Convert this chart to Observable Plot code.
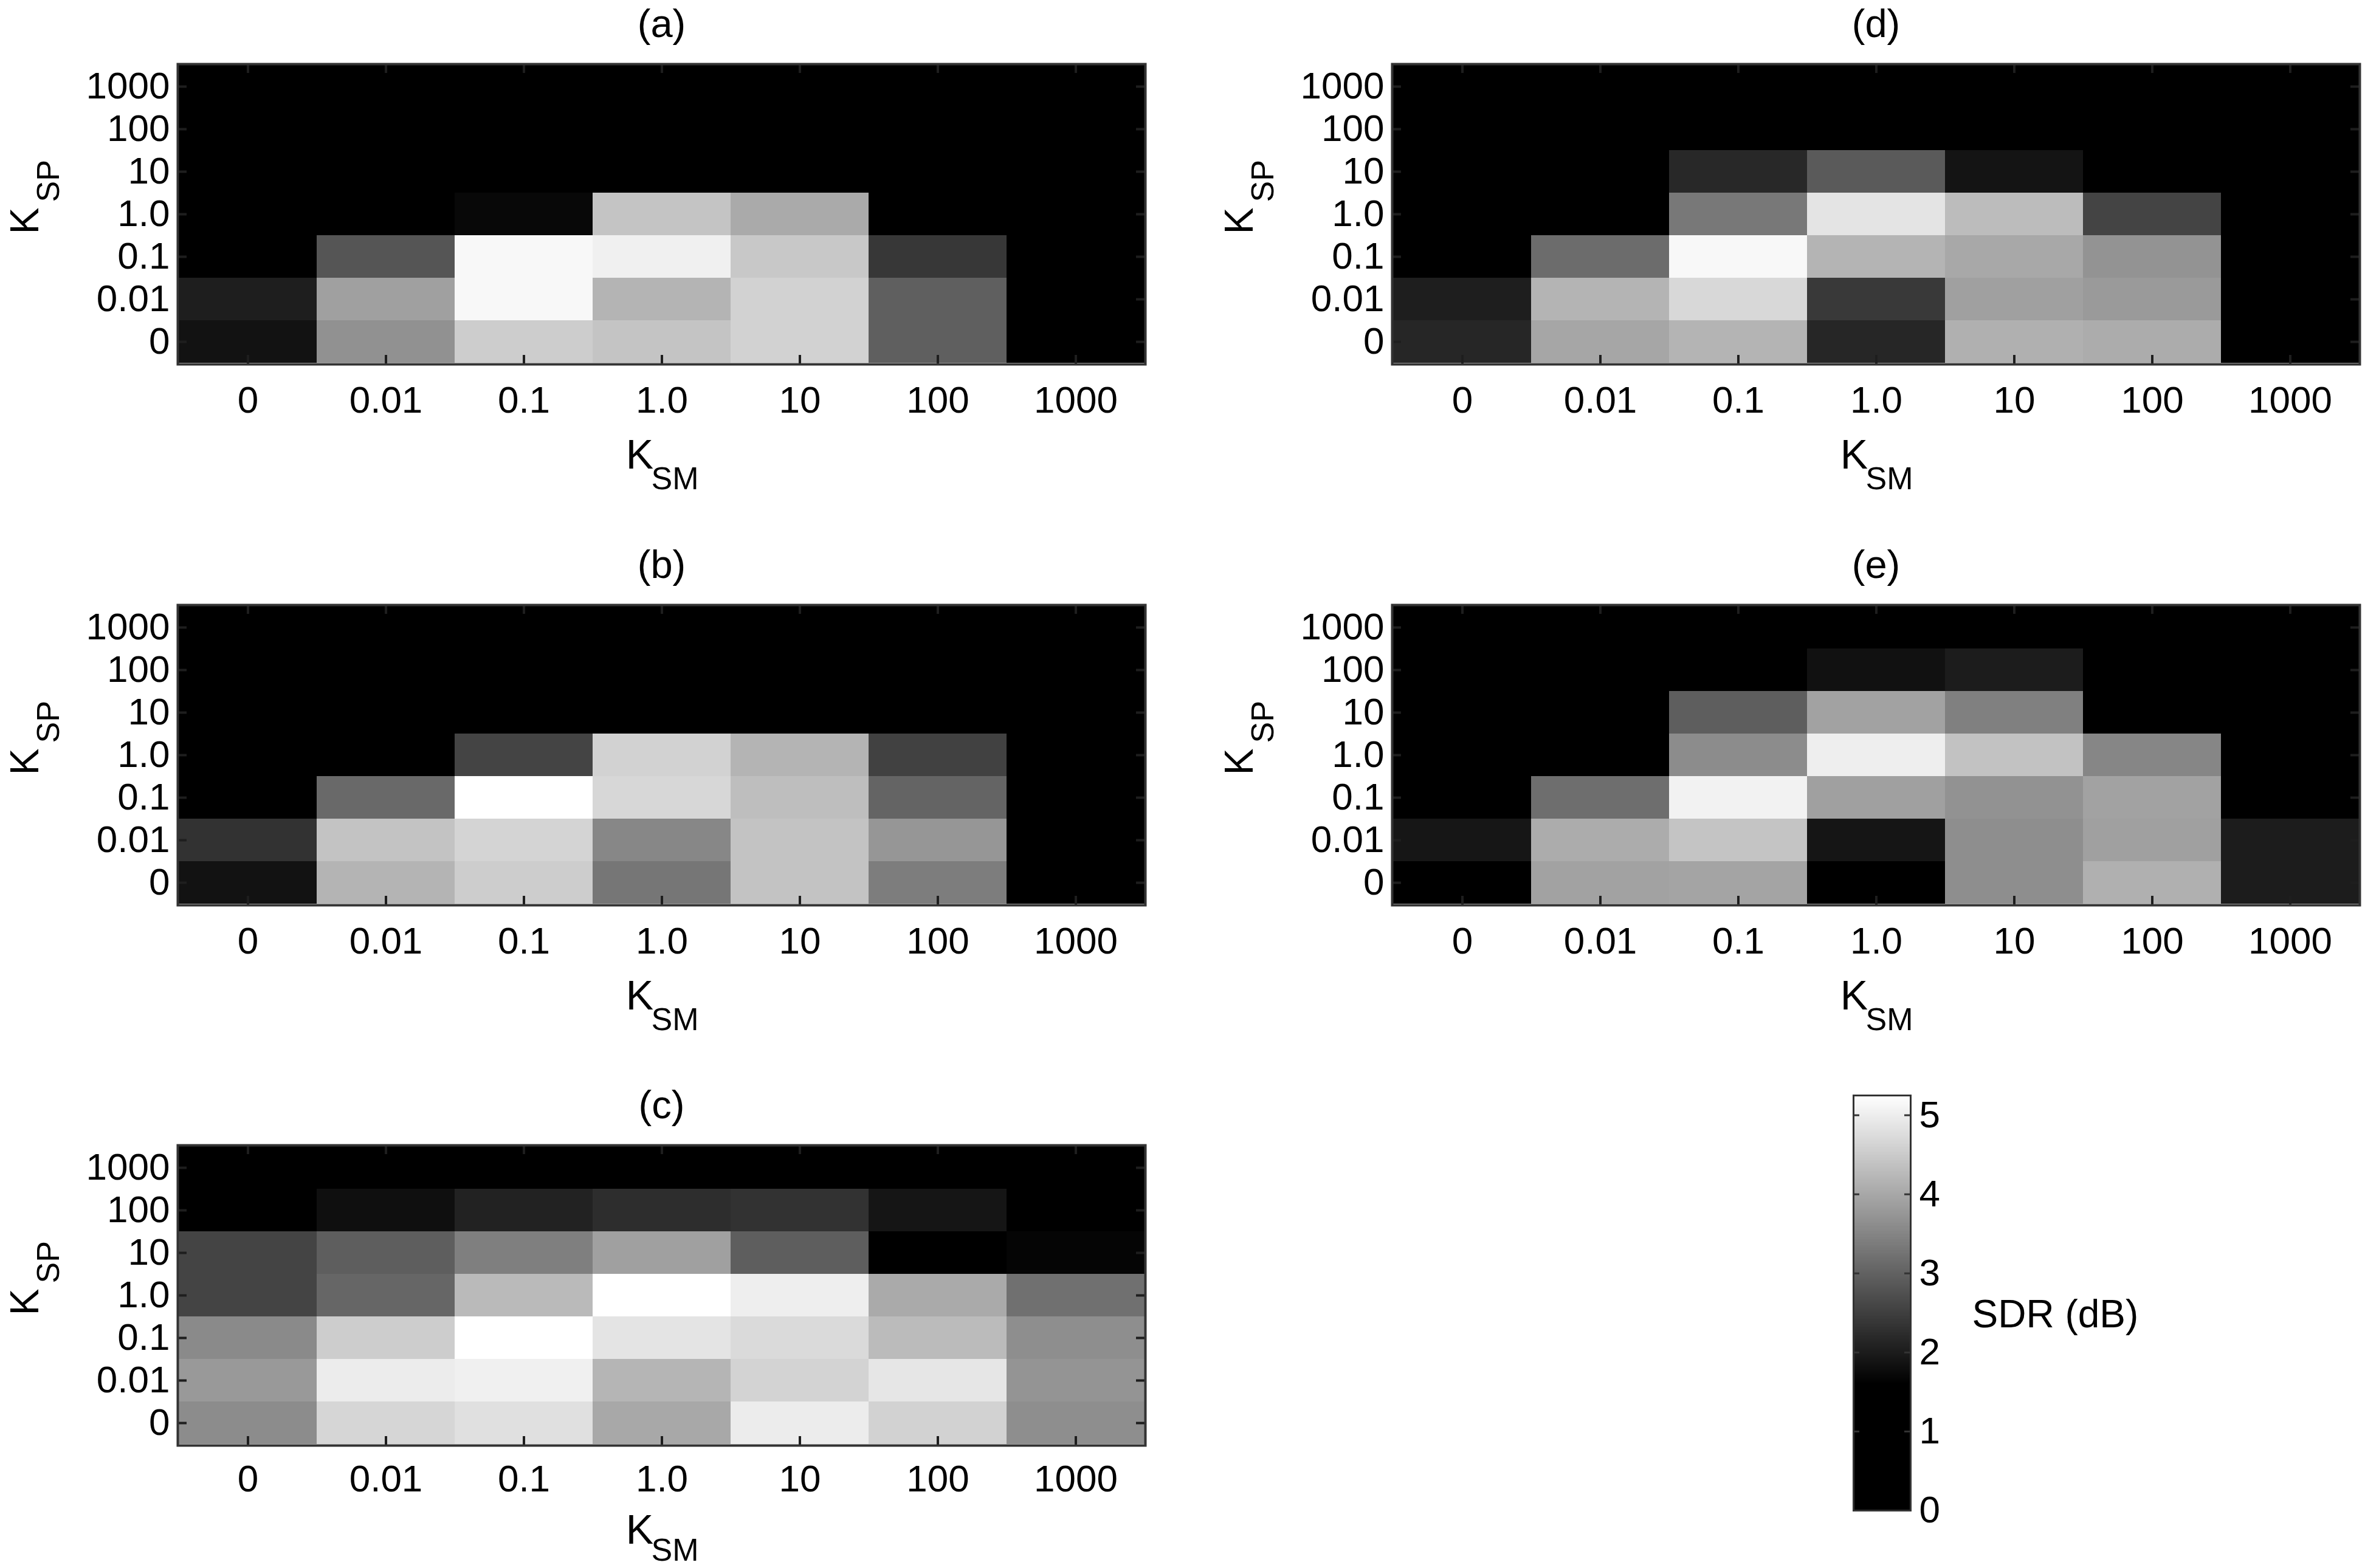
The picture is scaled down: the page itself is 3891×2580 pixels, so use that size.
<!DOCTYPE html>
<html>
<head>
<meta charset="utf-8">
<script src="https://cdn.jsdelivr.net/npm/d3@7"></script>
<script src="https://cdn.jsdelivr.net/npm/@observablehq/plot@0.6"></script>
<style>
html, body { margin: 0; padding: 0; background: #fff; }
#page { position: relative; width: 3891px; height: 2580px; overflow: hidden; background: #fff; }
#page > svg { position: absolute; }
</style>
</head>
<body>
<div id="page"></div>
<script>
// ---- data ----
const kSM = ["0", "0.01", "0.1", "1.0", "10", "100", "1000"];           // x categories
const kSP = ["1000", "100", "10", "1.0", "0.1", "0.01", "0"];           // y categories, top to bottom
const colorTicks = [0, 1, 2, 3, 4, 5];
const sdrMax = 5.25;
const blackBelow = 1.6;

// SDR (dB), rows follow kSP (top to bottom), columns follow kSM
const sdrA = [
  [1, 1, 1, 1, 1, 1, 1],
  [1, 1, 1, 1, 1, 1, 1],
  [1, 1, 1, 1, 1, 1, 1],
  [1, 1, 1.71, 4.41, 4.03, 1, 1],
  [1, 2.82, 5.15, 5.04, 4.46, 2.39, 1],
  [2.03, 3.89, 5.15, 4.18, 4.60, 2.96, 1],
  [1.86, 3.68, 4.53, 4.41, 4.60, 2.96, 1]
];
const sdrB = [
  [1, 1, 1, 1, 1, 1, 1],
  [1, 1, 1, 1, 1, 1, 1],
  [1, 1, 1, 1, 1, 1, 1],
  [1, 1, 2.57, 4.61, 4.18, 2.53, 1],
  [1, 3.10, 5.25, 4.68, 4.32, 3.03, 1],
  [2.32, 4.39, 4.63, 3.53, 4.39, 3.75, 1],
  [1.86, 4.18, 4.53, 3.29, 4.39, 3.39, 1]
];
const sdrC = [
  [1, 1, 1, 1, 1, 1, 1],
  [1, 1.81, 2.09, 2.24, 2.32, 1.90, 1],
  [2.57, 2.95, 3.42, 3.89, 2.95, 1, 1.67],
  [2.57, 3.06, 4.26, 5.25, 5.01, 4.03, 3.20],
  [3.58, 4.53, 5.25, 4.86, 4.72, 4.28, 3.63],
  [3.79, 4.98, 5.04, 4.19, 4.62, 4.89, 3.72],
  [3.60, 4.66, 4.81, 4.00, 4.98, 4.61, 3.63]
];
const sdrD = [
  [1, 1, 1, 1, 1, 1, 1],
  [1, 1, 1, 1, 1, 1, 1],
  [1, 1, 2.17, 2.89, 1.89, 1, 1],
  [1, 1, 3.32, 4.86, 4.29, 2.57, 1],
  [1, 3.15, 5.15, 4.18, 4.00, 3.70, 1],
  [2.03, 4.18, 4.69, 2.42, 3.89, 3.80, 1],
  [2.14, 3.98, 4.18, 2.14, 4.12, 4.06, 1]
];
const sdrE = [
  [1, 1, 1, 1, 1, 1, 1],
  [1, 1, 1, 1.84, 2.00, 1, 1],
  [1, 1, 2.95, 3.92, 3.43, 1, 1],
  [1, 1, 3.60, 5.01, 4.38, 3.52, 1],
  [1, 3.17, 5.06, 3.89, 3.69, 3.92, 1],
  [1.91, 4.06, 4.41, 1.90, 3.63, 3.89, 2.00],
  [1, 3.92, 3.95, 1, 3.63, 4.12, 2.00]
];
const panelNames = ["(a)", "(b)", "(c)", "(d)", "(e)"];
const panelValues = [sdrA, sdrB, sdrC, sdrD, sdrE];

// ---- layout ----
const FONT = '"Liberation Sans", Arial, Helvetica, sans-serif';
const colorScale = {
  type: "linear",
  domain: [0, blackBelow, sdrMax],
  range: ["#000000", "#000000", "#ffffff"],
  interpolate: "rgb"
};
const layout = [
  {left: 0,    top: 0,    col: 0, height: 880, pad: 35, kdy: 171, sdy: 205},
  {left: 0,    top: 890,  col: 0, height: 880, pad: 35, kdy: 171, sdy: 205},
  {left: 0,    top: 1779, col: 0, height: 801, pad: 31, kdy: 161, sdy: 189},
  {left: 1950, top: 0,    col: 1, height: 880, pad: 35, kdy: 171, sdy: 205},
  {left: 1950, top: 890,  col: 1, height: 880, pad: 35, kdy: 171, sdy: 205}
];
const FW = 1592, FH = 494, MT = 105, TICK = 15;
const page = document.getElementById("page");

panelNames.forEach((name, k) => {
  const L = layout[k];
  const values = panelValues[k];
  const W = L.col === 0 ? 1950 : 1941;
  const ml = L.col === 0 ? 292 : 340;
  const mr = W - ml - FW;
  const mb = L.height - MT - FH;
  const cells = kSP.flatMap((sp, i) => kSM.map((sm, j) => ({sm, sp, v: values[i][j]})));
  const svg = Plot.plot({
    width: W, height: L.height,
    marginLeft: ml, marginRight: mr, marginTop: MT, marginBottom: mb,
    style: {fontFamily: FONT, fontSize: "62px", color: "#000", background: "transparent", overflow: "visible"},
    x: {type: "band", domain: kSM, padding: 0},
    y: {type: "band", domain: kSP, padding: 0},
    color: colorScale,
    marks: [
      Plot.cell(cells, {x: "sm", y: "sp", fill: "v", inset: 0, shapeRendering: "crispEdges"}),
      Plot.tickX(kSM, {x: d => d, insetTop: FH - TICK, stroke: "#1e1e1e", strokeWidth: 4}),
      Plot.tickX(kSM, {x: d => d, insetBottom: FH - TICK, stroke: "#1e1e1e", strokeWidth: 4}),
      Plot.tickY(kSP, {y: d => d, insetRight: FW - TICK, stroke: "#1e1e1e", strokeWidth: 4}),
      Plot.tickY(kSP, {y: d => d, insetLeft: FW - TICK, stroke: "#1e1e1e", strokeWidth: 4}),
      Plot.frame({stroke: "#333", strokeWidth: 4}),
      Plot.axisX({anchor: "bottom", tickSize: 0, tickPadding: L.pad, label: null, fontSize: 62}),
      Plot.axisY({anchor: "left", tickSize: 0, tickPadding: 13, label: null, fontSize: 62}),
      Plot.text([name], {text: d => d, frameAnchor: "top", dy: -45, lineAnchor: "bottom", fontSize: 65}),
      Plot.text(["K"], {text: d => d, frameAnchor: "bottom", dx: -36, dy: L.kdy, lineAnchor: "bottom", fontSize: 68}),
      Plot.text(["SM"], {text: d => d, frameAnchor: "bottom", dx: 22, dy: L.sdy, lineAnchor: "bottom", fontSize: 52}),
      Plot.text(["K"], {text: d => d, frameAnchor: "left", rotate: -90, dx: -230, dy: 33, lineAnchor: "bottom", fontSize: 66}),
      Plot.text(["SP"], {text: d => d, frameAnchor: "left", rotate: -90, dx: -196, dy: -20, lineAnchor: "bottom", fontSize: 52})
    ]
  });
  svg.style.left = L.left + "px";
  svg.style.top = L.top + "px";
  page.appendChild(svg);
});

// ---- colorbar ----
const step = 0.0125;
const cbarSteps = d3.range(0, sdrMax, step);
const CBW = 94;
const cbar = Plot.plot({
  width: 941, height: 830,
  marginLeft: 99, marginRight: 941 - 99 - CBW, marginTop: 52, marginBottom: 95,
  style: {fontFamily: FONT, fontSize: "62px", color: "#000", background: "transparent", overflow: "visible"},
  x: {domain: [0, 1], axis: null},
  y: {domain: [0, sdrMax], axis: null},
  color: colorScale,
  marks: [
    Plot.rect(cbarSteps, {x1: 0, x2: 1, y1: d => d, y2: d => Math.min(sdrMax, d + step * 1.5), fill: d => d + step / 2, shapeRendering: "crispEdges"}),
    Plot.tickY(colorTicks, {y: d => d, insetRight: CBW - 10, stroke: "#333", strokeWidth: 3}),
    Plot.tickY(colorTicks, {y: d => d, insetLeft: CBW - 10, stroke: "#333", strokeWidth: 3}),
    Plot.frame({stroke: "#333", strokeWidth: 3}),
    Plot.axisY(colorTicks, {anchor: "right", tickSize: 0, tickPadding: 14, label: null, fontSize: 62, tickFormat: d => String(d)}),
    Plot.text(["SDR (dB)"], {text: d => d, frameAnchor: "right", dx: 101, dy: 20, textAnchor: "start", fontSize: 64})
  ]
});
cbar.style.left = "2950px";
cbar.style.top = "1750px";
page.appendChild(cbar);
</script>
</body>
</html>
